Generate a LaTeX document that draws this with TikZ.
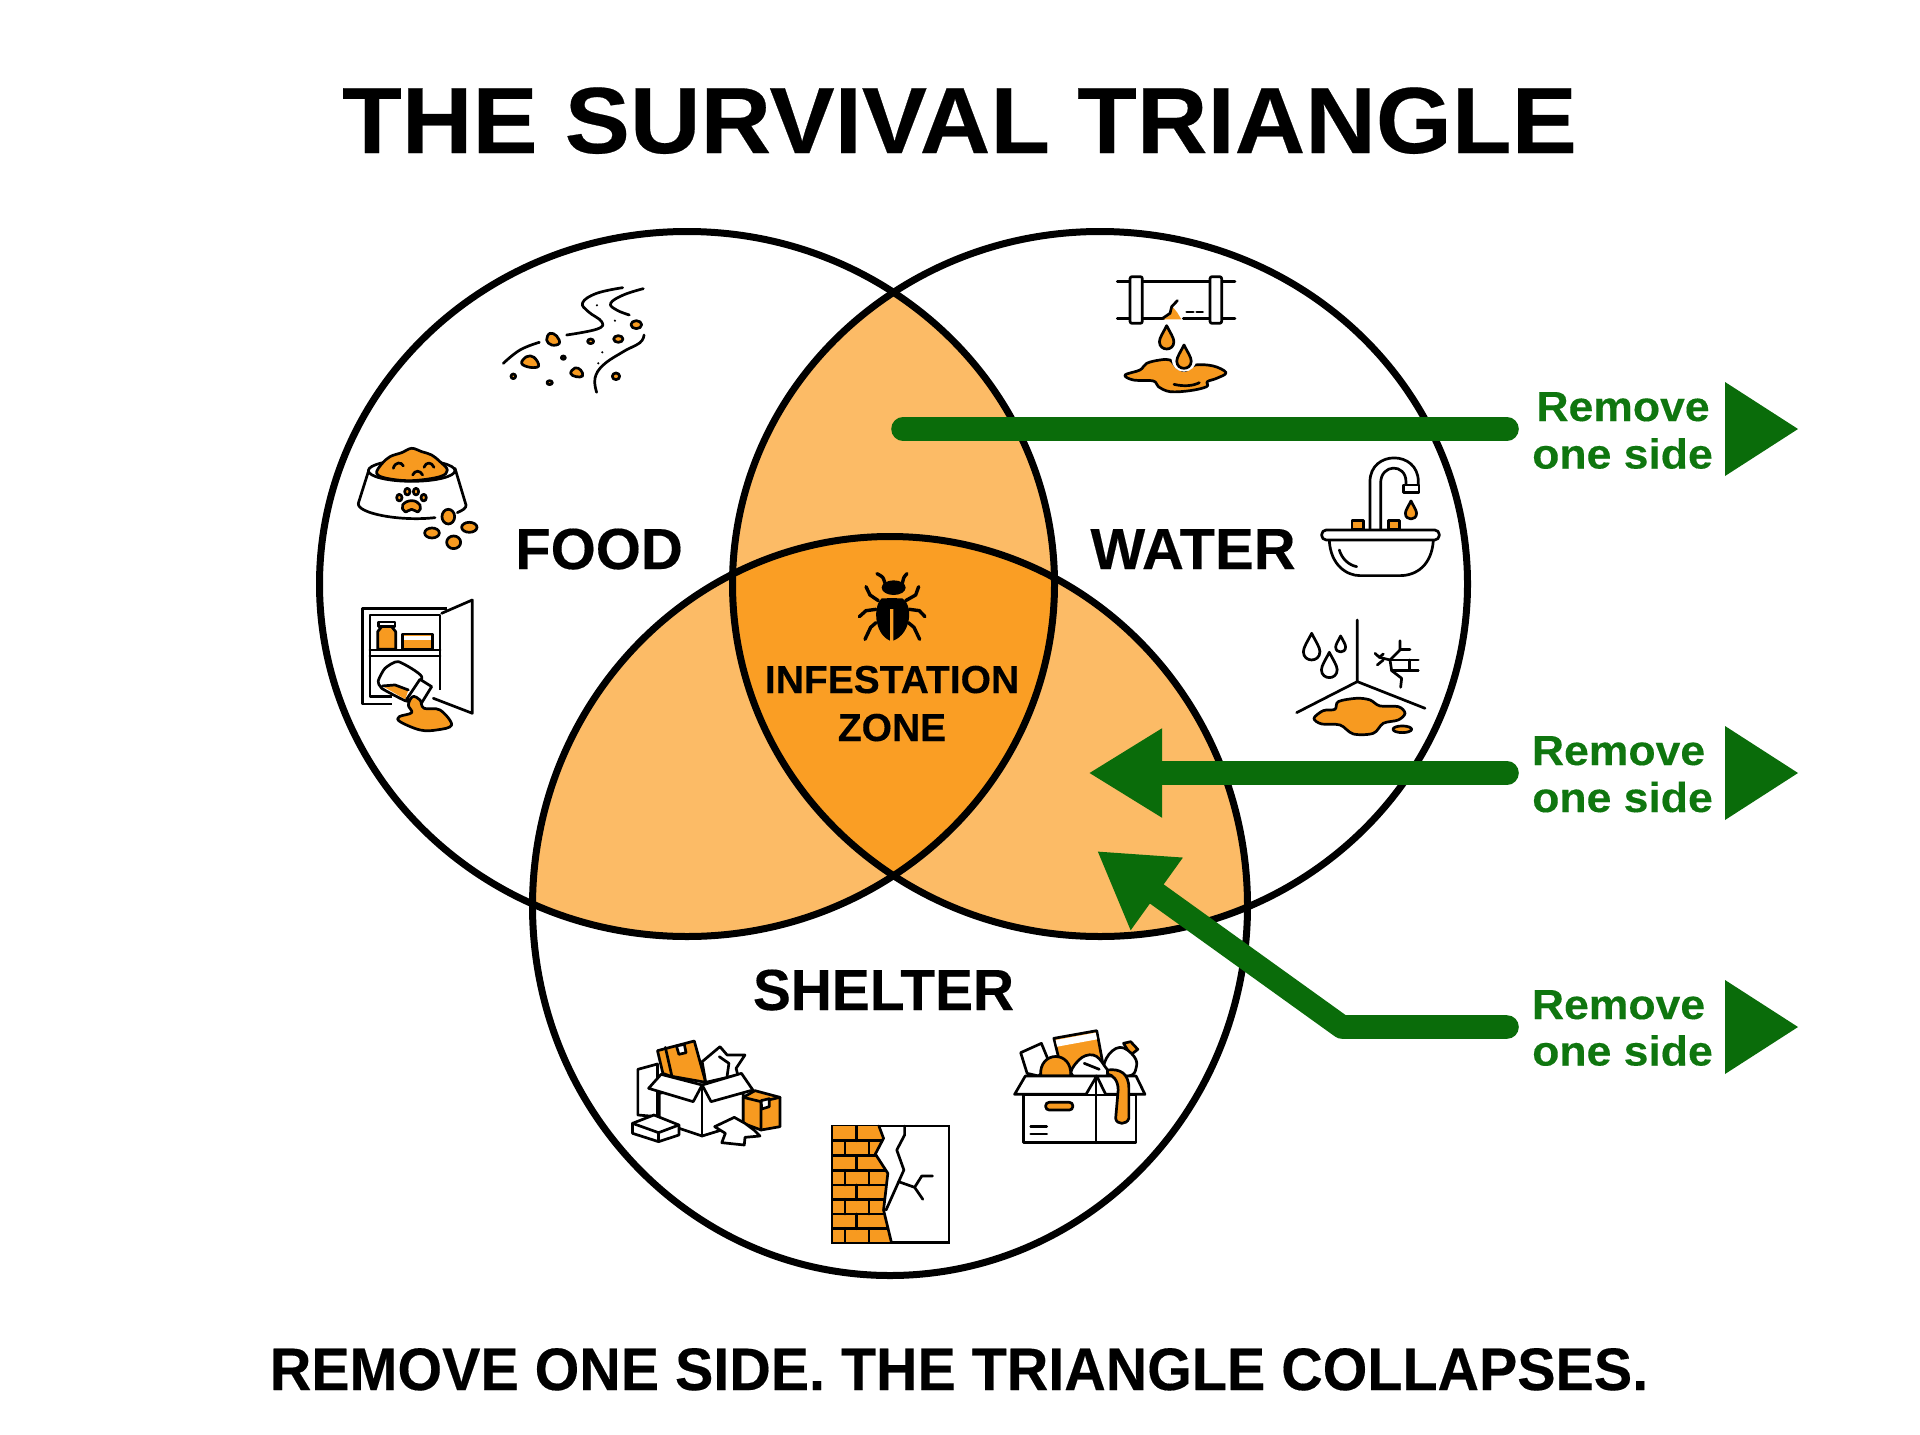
\documentclass[tikz,border=0pt]{standalone}
\usepackage{fontspec}
\setmainfont{Liberation Sans}[BoldFeatures={FakeBold=0.25}]
\usetikzlibrary{arrows.meta}
\definecolor{lightzone}{HTML}{FCBB66}
\definecolor{corezone}{HTML}{FA9E24}
\definecolor{iconorange}{HTML}{F79A20}
\definecolor{pipegreen}{HTML}{0A6C0A}
\definecolor{wordgreen}{HTML}{0F760F}
\newcommand{\foodring}{(687,584) ellipse [x radius=367.5,y radius=352.5]}
\newcommand{\waterring}{(1100,584) ellipse [x radius=367.5,y radius=352.5]}
\newcommand{\shelterring}{(890,906) ellipse [x radius=357.5,y radius=369.5]}
\newcommand{\teardrop}[3]{(#1,#2-#3) .. controls (#1-0.3*#3,#2-0.4*#3) and (#1-0.62*#3,#2+0.05*#3) .. (#1-0.62*#3,#2+0.38*#3) .. controls (#1-0.62*#3,#2+0.8*#3) and (#1-0.3*#3,#2+#3) .. (#1,#2+#3) .. controls (#1+0.3*#3,#2+#3) and (#1+0.62*#3,#2+0.8*#3) .. (#1+0.62*#3,#2+0.38*#3) .. controls (#1+0.62*#3,#2+0.05*#3) and (#1+0.3*#3,#2-0.4*#3) .. (#1,#2-#3) -- cycle}
\tikzset{
	ring/.style={draw=black,line width=3.5pt},
	icon/.style={draw=black,line width=1.35pt,line join=round,line cap=round},
	iconfill/.style={icon,fill=iconorange},
	iconwhite/.style={icon,fill=white},
	greenbar/.style={draw=pipegreen,line width=11.8pt,line cap=round,line join=round},
	headline/.style={anchor=base,inner sep=0pt,xscale=1.04,transform shape,font=\bfseries\fontsize{47}{47}\selectfont},
	footline/.style={anchor=base,inner sep=0pt,xscale=0.957,transform shape,font=\bfseries\fontsize{30}{30}\selectfont},
	ringword/.style={anchor=base,inner sep=0pt,font=\bfseries\fontsize{29}{29}\selectfont},
	coreword/.style={anchor=base,inner sep=0pt,font=\bfseries\fontsize{19.5}{19.5}\selectfont},
	sideword/.style={anchor=base,inner sep=0pt,text=wordgreen,xscale=1.06,transform shape,font=\bfseries\fontsize{21}{21}\selectfont}
}
\begin{document}
\begin{tikzpicture}[x=0.5pt,y=-0.5pt]
	\useasboundingbox (0,0) rectangle (1920,1434);
	\fill[white] (0,0) rectangle (1920,1434);

	% overlaps
	\begin{scope}
		\clip \foodring;
		\fill[lightzone] \waterring;
		\fill[lightzone] \shelterring;
	\end{scope}
	\begin{scope}
		\clip \waterring;
		\fill[lightzone] \shelterring;
		\clip \shelterring;
		\fill[corezone] \foodring;
	\end{scope}
	\draw[ring] \foodring;
	\draw[ring] \waterring;
	\draw[ring] \shelterring;

	% crumbs
	\begin{scope}[shift={(340,260)},scale=0.3333]
		\draw[icon] plot[smooth,tension=0.7] coordinates {(848,83) (770,100) (728,128) (745,155) (785,185) (772,207) (680,225)};
		\draw[icon] plot[smooth,tension=0.7] coordinates {(910,86) (850,105) (812,130) (830,150) (868,165)};
		\draw[icon] plot[smooth,tension=0.7] coordinates {(598,247) (540,270) (490,310)};
		\draw[icon] plot[smooth,tension=0.7] coordinates {(912,225) (900,248) (850,275) (790,315) (765,355) (770,397)};
		\foreach \cx/\cy/\rx/\ry in {889/194/16/12,835/237/14/10,752/244/9/7,670/293/6/5,520/349/7/7,629/368/8/6,828/349/11/10}
			\draw[iconfill] (\cx,\cy) ellipse [x radius=\rx,y radius=\ry];
		\draw[iconfill] plot[smooth cycle,tension=0.7] coordinates {(630,220) (650,228) (658,250) (635,255) (620,240)};
		\draw[iconfill] plot[smooth cycle,tension=0.7] coordinates {(545,310) (560,290) (582,292) (596,318) (570,322)};
		\draw[iconfill] plot[smooth cycle,tension=0.7] coordinates {(692,340) (705,324) (722,330) (728,348) (708,350)};
		\foreach \cx/\cy in {771/136,825/182,787/277,775/310}
			\fill (\cx,\cy) circle (3.5);
	\end{scope}

	% bowl
	\begin{scope}[shift={(340,260)},scale=0.3333]
		\draw[icon] (85,635) -- (55,730) .. controls (50,760) and (180,785) .. (285,773);
		\draw[icon] (345,625) -- (378,735) .. controls (380,745) and (365,752) .. (352,758);
		\draw[iconwhite] (215,632) ellipse [x radius=130,y radius=32];
		\draw[iconfill] plot[smooth cycle,tension=0.6] coordinates {(110,640) (125,612) (150,590) (185,578) (215,565) (245,575) (275,585) (300,605) (322,630) (300,650) (215,662) (140,655)};
		\draw[icon] (160,625) .. controls (165,605) and (185,605) .. (190,618);
		\draw[icon] (218,645) .. controls (225,630) and (240,630) .. (248,645);
		\draw[icon] (252,622) .. controls (258,605) and (275,605) .. (282,622);
		\draw[iconfill] plot[smooth cycle,tension=0.8] coordinates {(215,722) (240,735) (235,755) (215,748) (195,755) (188,735)};
		\foreach \cx/\cy in {178/713,202/695,228/695,251/713}
			\draw[iconfill] (\cx,\cy) ellipse [x radius=8,y radius=10];
		\foreach \cx/\cy/\rx/\ry in {325/770/19/22,388/802/23/15,276/819/22/15,341/847/21/19}
			\draw[iconfill] (\cx,\cy) ellipse [x radius=\rx,y radius=\ry];
	\end{scope}

	% cupboard
	\begin{scope}[shift={(340,260)},scale=0.3333]
		\draw[icon,line cap=butt] (155,1332) -- (68,1332) -- (68,1045) -- (320,1045);
		\draw[icon,line cap=butt] (155,1310) -- (90,1310) -- (90,1065) -- (300,1065) -- (300,1290);
		\draw[icon] (90,1170) -- (300,1170) (90,1188) -- (300,1188);
		\draw[icon] (305,1060) -- (397,1020) -- (397,1360) -- (280,1315);
		\draw[iconfill] (113,1168) -- (113,1115) -- (125,1100) -- (155,1100) -- (167,1115) -- (167,1168) -- cycle;
		\draw[iconwhite] (115,1086) rectangle (165,1100);
		\draw[iconfill] (188,1122) rectangle (277,1168);
		\fill[white] (192,1128) rectangle (273,1140);
		\draw[iconwhite] plot[smooth cycle,tension=0.35] coordinates {(175,1205) (245,1250) (215,1320) (195,1322) (125,1285) (115,1262) (135,1225)};
		\fill[iconorange] (127,1278) -- (165,1275) -- (205,1290) -- (196,1318) -- cycle;
		\draw[icon] (127,1278) -- (165,1275) -- (205,1290);
		\draw[iconwhite] (240,1258) -- (275,1280) -- (238,1340) -- (200,1318) -- cycle;
		\draw[iconfill] plot[smooth cycle,tension=0.6] coordinates {(218,1310) (240,1320) (252,1345) (300,1350) (335,1395) (290,1410) (240,1410) (180,1385) (178,1370) (215,1358) (205,1335)};
	\end{scope}

	% pipe
	\begin{scope}[shift={(1090,250)},scale=0.3333]
		\draw[icon] (82,95) -- (435,95) (82,205) -- (222,205) (280,205) -- (435,205);
		\draw[iconwhite,rounded corners=1pt] (120,80) rectangle (157,220);
		\draw[iconwhite,rounded corners=1pt] (360,80) rectangle (395,220);
		\fill[iconorange] (218,208) -- (240,190) -- (245,167) -- (262,188) -- (274,208) -- cycle;
		\draw[icon] (218,205) -- (240,190) -- (245,170) -- (262,152);
		\draw[icon] (290,186) -- (310,186) (320,186) -- (338,186);
		\draw[iconfill] plot[smooth cycle,tension=0.6] coordinates {(105,375) (150,360) (170,340) (210,330) (240,330) (258,350) (285,362) (315,345) (370,348) (408,368) (380,385) (352,395) (350,410) (300,422) (240,425) (205,410) (190,393) (130,390)};
		\draw[icon] (252,403) .. controls (280,410) and (310,408) .. (328,398);
		\fill[white] (282,328) circle (37);
		\draw[iconfill] \teardrop{230}{262}{35};
		\draw[iconfill] \teardrop{282}{320}{35};
	\end{scope}

	% sink
	\begin{scope}[shift={(1090,250)},scale=0.3333]
		\draw[icon] (840,838) -- (840,695) .. controls (840,600) and (985,600) .. (985,695) -- (985,705);
		\draw[icon] (872,838) -- (872,700) .. controls (872,640) and (948,640) .. (948,695) -- (948,705);
		\draw[iconwhite] (940,705) rectangle (987,728);
		\draw[iconfill] \teardrop{963}{780}{27};
		\draw[iconfill] (786,812) rectangle (820,838);
		\draw[iconfill] (895,812) rectangle (928,838);
		\draw[iconwhite,rounded corners=2.3pt] (695,840) rectangle (1048,870);
		\draw[icon] (718,872) .. controls (722,945) and (770,977) .. (810,977) -- (930,977) .. controls (980,977) and (1025,945) .. (1030,872);
		\draw[icon] (748,900) .. controls (755,925) and (775,945) .. (800,950);
	\end{scope}

	% damp corner
	\begin{scope}[shift={(1090,250)},scale=0.3333]
		\draw[icon] (802,1110) -- (802,1295) -- (620,1388);
		\draw[icon] (802,1295) -- (1005,1375);
		\draw[iconwhite] \teardrop{665}{1190}{40};
		\draw[iconwhite] \teardrop{752}{1182}{24};
		\draw[iconwhite] \teardrop{718}{1245}{38};
		\draw[icon] (930,1172) -- (930,1200) -- (900,1230) -- (868,1222) -- (855,1210);
		\draw[icon] (868,1222) -- (880,1212) (880,1230) -- (862,1245);
		\draw[icon] (900,1230) -- (905,1262) -- (935,1285) -- (932,1312);
		\draw[icon] (930,1198) -- (960,1198) (900,1230) -- (985,1230) (905,1262) -- (985,1262) (958,1230) -- (958,1262);
		\draw[iconfill] plot[smooth cycle,tension=0.55] coordinates {(672,1405) (700,1382) (735,1378) (745,1355) (800,1345) (840,1350) (870,1368) (925,1370) (945,1390) (925,1410) (880,1420) (850,1450) (790,1452) (750,1425) (695,1422)};
		\draw[iconfill] (937,1438) ellipse [x radius=28,y radius=10];
	\end{scope}

	% box pile
	\begin{scope}[shift={(620,1010)},xscale=0.3571,yscale=0.3333]
		\draw[iconwhite] (50,178) -- (105,162) -- (105,320) -- (50,315) -- cycle;
		\draw[iconfill] (105,122) -- (208,93) -- (240,217) -- (140,198) -- (120,190) -- cycle;
		\draw[icon] (127,112) -- (145,197);
		\draw[iconwhite] (158,108) -- (180,103) -- (185,128) -- (165,133) -- cycle;
		\draw[iconwhite] (230,155) -- (280,110) -- (300,135) -- (350,135) -- (325,175) -- (330,195) -- (240,217) -- cycle;
		\draw[icon] (278,140) -- (305,160) -- (300,198);
		\draw[iconwhite] (110,250) -- (110,335) -- (230,378) -- (345,340) -- (345,250) -- (230,225) -- cycle;
		\draw[icon] (230,225) -- (230,378);
		\draw[iconwhite] (80,235) -- (115,193) -- (230,225) -- (205,275) -- cycle;
		\draw[iconwhite] (230,225) -- (340,190) -- (372,240) -- (255,275) -- cycle;
		\draw[iconfill] (345,262) -- (378,242) -- (448,262) -- (448,350) -- (395,360) -- (345,340) -- cycle;
		\draw[icon] (345,262) -- (395,275) -- (448,262) (395,275) -- (395,360);
		\draw[iconwhite] (395,272) -- (418,266) -- (418,290) -- (397,297) -- cycle;
		\draw[iconwhite] (265,350) -- (320,322) -- (350,340) -- (375,360) -- (392,378) -- (350,382) -- (348,405) -- (285,398) -- (295,370) -- cycle;
		\draw[iconwhite] (35,340) -- (95,315) -- (165,345) -- (165,375) -- (108,395) -- (35,370) -- cycle;
		\draw[icon] (35,340) -- (108,368) -- (165,345) (108,368) -- (108,395);
	\end{scope}

	% broken wall
	\begin{scope}[shift={(620,1010)},xscale=0.3571,yscale=0.3333]
		\draw[iconwhite,line join=miter] (596,348) rectangle (921,697);
		\begin{scope}
			\clip (596,348) -- (725,348) -- (738,385) -- (715,432) -- (750,490) -- (738,600) -- (760,697) -- (596,697) -- cycle;
			\fill[iconorange] (596,348) rectangle (800,697);
			\foreach \yy in {392,437,481,525,568,612,655}
				\draw[icon] (596,\yy) -- (800,\yy);
			\foreach \yy/\xa in {348/662,437/662,525/662,612/662}
				\draw[icon] (\xa,\yy) -- (\xa,\yy+44);
			\foreach \yy in {392,481,568,655}
				\draw[icon] (630,\yy) -- (630,\yy+44) (697,\yy) -- (697,\yy+44);
		\end{scope}
		\draw[icon] (725,348) -- (738,385) -- (715,432) -- (750,490) -- (738,600) -- (760,697);
		\draw[icon] (797,348) -- (797,375) -- (775,420) -- (795,480) -- (745,600);
		\draw[icon] (780,515) -- (825,532) -- (845,498) -- (875,498) (825,532) -- (848,568);
	\end{scope}

	% full box
	\begin{scope}[shift={(620,1010)},xscale=0.3571,yscale=0.3333]
		\draw[iconwhite] (1122,128) -- (1180,100) -- (1205,165) -- (1172,198) -- (1140,190) -- cycle;
		\draw[iconfill] (1215,85) -- (1335,62) -- (1352,160) -- (1240,195) -- cycle;
		\fill[white] (1220,90) -- (1332,68) -- (1336,88) -- (1224,110) -- cycle;
		\draw[iconfill] (1178,198) .. controls (1172,120) and (1268,120) .. (1262,198) -- cycle;
		\draw[iconfill] (1410,100) -- (1430,95) -- (1450,118) -- (1430,135) -- cycle;
		\draw[iconwhite] plot[smooth cycle,tension=0.7] coordinates {(1360,195) (1362,145) (1400,112) (1440,140) (1445,175) (1425,198)};
		\draw[iconwhite] plot[smooth cycle,tension=0.7] coordinates {(1268,198) (1285,150) (1325,135) (1355,165) (1362,198)};
		\draw[icon] (1300,160) -- (1342,178);
		\draw[iconwhite] (1130,255) rectangle (1445,398);
		\draw[icon] (1333,198) -- (1333,398);
		\draw[iconwhite] (1105,253) -- (1135,198) -- (1335,198) -- (1305,253) -- cycle;
		\draw[iconwhite] (1335,198) -- (1445,198) -- (1470,253) -- (1360,253) -- cycle;
		\draw[iconfill] (1365,180) .. controls (1400,175) and (1425,190) .. (1425,235) -- (1425,325) .. controls (1420,345) and (1390,345) .. (1388,325) -- (1395,240) .. controls (1395,210) and (1380,195) .. (1365,192) -- cycle;
		\draw[iconfill,rounded corners=1.7pt] (1192,277) rectangle (1268,300);
		\draw[icon] (1150,350) -- (1195,350) (1150,372) -- (1195,372);
	\end{scope}

	% bug
	\begin{scope}[shift={(740,550)},scale=0.3333]
		\fill (461,113) ellipse [x radius=36,y radius=22];
		\draw[line width=1.7pt,line cap=round,line join=round] plot[smooth] coordinates {(435,100) (428,82) (411,71)};
		\draw[line width=1.7pt,line cap=round,line join=round] plot[smooth] coordinates {(487,100) (492,82) (501,71)};
		\foreach \sx/\mx/\ex/\my/\ey/\sy in {415/390/378/135/110/152,497/527/536/135/110/152,408/378/358/182/200/178,508/538/555/182/200/178,408/392/375/232/268/218,505/522/539/232/268/218}
			\draw[line width=1.7pt,line cap=round,line join=round] (\sx,\sy) -- (\mx,\my) -- (\ex,\ey);
		\fill (450,145) -- (425,145) .. controls (400,165) and (400,250) .. (450,272) -- cycle;
		\fill (460,145) -- (487,145) .. controls (520,165) and (515,250) .. (460,272) -- cycle;
		\fill (440,145) rectangle (472,178);
	\end{scope}

	% words
	\node[headline] (title) at (959.5,153) {THE SURVIVAL TRIANGLE};
	\node[ringword] (food) at (599,569) {FOOD};
	\node[ringword] (water) at (1193,569) {WATER};
	\node[ringword,xscale=0.98,transform shape] (shelter) at (883.5,1010) {SHELTER};
	\node[coreword] (infestation) at (892,693) {INFESTATION};
	\node[coreword] (zone) at (892,741) {ZONE};
	\node[footline] (footer) at (959,1390) {REMOVE ONE SIDE. THE TRIANGLE COLLAPSES.};

	% side notes
	\foreach \i/\ya/\yb/\xa/\yc in {1/421/468.5/1623/429,2/765/812/1618.5/773,3/1019/1065.5/1618.5/1027}{
		\node[sideword] (remove\i) at (\xa,\ya) {Remove};
		\node[sideword] (oneside\i) at (1622.5,\yb) {one side};
		\fill[pipegreen] (1725,\yc-47) -- (1798,\yc) -- (1725,\yc+47) -- cycle;
	}

	% bars
	\coordinate (barstart1) at (1507,429);
	\coordinate (barend1) at (903,429);
	\coordinate (barstart2) at (1507,773);
	\coordinate (barend2) at (1088.5,773);
	\coordinate (barstart3) at (1507,1027);
	\coordinate (barbend3) at (1342,1027);
	\coordinate (barend3) at (1097,851);
	\draw[greenbar] (barstart1) -- (barend1);
	\draw[greenbar,-{Triangle[length=36.8pt,width=42pt]}] (barstart2) -- (barend2);
	\draw[greenbar,-{Triangle[length=36.8pt,width=42pt]}] (barstart3) -- (barbend3) -- (barend3);
\end{tikzpicture}
\end{document}
